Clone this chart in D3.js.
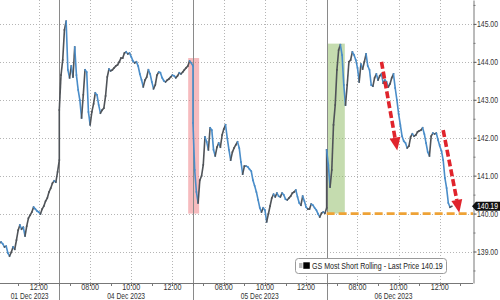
<!DOCTYPE html>
<html>
<head>
<meta charset="utf-8">
<script src="https://cdn.jsdelivr.net/npm/d3@7"></script>
<style>
  body { margin: 0; background: #fff; }
  svg { display: block; font-family: "Liberation Sans", Arial, sans-serif; }
</style>
</head>
<body>
<div id="chart"></div>
<script>
// trading days shown and the time of the first 5 minute bar on each
var days = ["01 Dec 2023", "04 Dec 2023", "05 Dec 2023", "06 Dec 2023"];
var firstBar = ["10:05", "06:30", "06:30", "06:30"];
var barMinutes = 5;

var dec01 = [139.22, 139.25, 139.20, 139.12, 139.14, 138.96, 138.88, 138.98, 139.12, 139.06,
             139.30, 139.56, 139.70, 139.59, 139.64, 139.41, 139.67, 139.88, 139.96, 140.04,
             140.17, 140.12, 140.07, 140.04, 139.99, 140.12, 140.20, 140.33, 140.41, 140.57,
             140.67, 140.80, 140.86, 140.83, 141.10, 141.41];
var dec04 = [142.73, 143.65, 144.05, 144.84, 145.07, 143.79, 143.58, 143.89, 143.60, 144.39,
             143.65, 143.26, 142.99, 142.52, 143.13, 143.79, 143.73, 142.68, 142.34, 142.68,
             142.89, 143.18, 143.13, 142.86, 142.65, 142.73, 142.78, 143.10, 143.60, 143.81,
             143.76, 143.79, 143.84, 143.89, 143.92, 144.00, 144.10, 144.10, 144.23, 144.26,
             144.21, 144.23, 144.13, 144.02, 143.97, 144.00, 143.89, 143.68, 143.52, 143.34,
             143.52, 143.60, 143.79, 143.68, 143.47, 143.29, 143.39, 143.65, 143.73, 143.71,
             143.58, 143.50, 143.47, 143.52, 143.55, 143.60, 143.65, 143.63, 143.58, 143.63,
             143.71, 143.68, 143.73, 143.79, 143.84, 143.89, 144.02, 143.97, 143.89];
var dec05 = [142.39, 141.15, 140.57, 140.28, 140.88, 140.99, 141.28, 142.02, 141.89, 141.68,
             142.26, 142.20, 141.68, 141.52, 141.75, 141.86, 141.75, 142.07, 142.23, 142.34,
             141.99, 141.68, 141.41, 141.62, 141.73, 141.81, 141.89, 141.73, 141.36, 141.04,
             141.25, 141.25, 141.23, 141.17, 141.12, 140.88, 140.73, 140.57, 140.36, 140.15,
             140.04, 140.15, 140.09, 139.78, 139.99, 140.20, 140.41, 140.51, 140.44, 140.54,
             140.46, 140.44, 140.54, 140.49, 140.38, 140.36, 140.41, 140.46, 140.54, 140.57,
             140.62, 140.44, 140.28, 140.22, 140.46, 140.33, 140.17, 140.12, 140.12, 140.25,
             140.22, 140.15, 140.09, 139.99, 139.91, 140.01, 140.04, 140.01, 140.15];
var dec06 = [141.68, 141.28, 140.70, 141.15, 142.34, 142.86, 143.79, 144.31, 144.45, 144.18,
             143.39, 142.86, 143.39, 144.00, 144.05, 144.26, 144.18, 144.05, 143.84, 143.47,
             143.94, 143.81, 144.00, 144.21, 143.89, 143.79, 143.39, 143.36, 143.58, 143.68,
             143.52, 143.63, 143.68, 143.44, 143.52, 143.47, 143.34, 143.42, 143.58, 143.68,
             143.31, 142.99, 142.63, 142.34, 142.04, 141.91, 141.86, 141.73, 141.78, 142.02,
             142.10, 142.04, 142.07, 142.15, 142.18, 142.20, 142.26, 142.10, 141.86, 141.62,
             141.52, 142.04, 142.12, 142.10, 142.12, 141.94, 141.78, 141.65, 141.41, 140.94,
             140.67, 140.28, 140.17, 140.19];
var prices = [dec01, dec04, dec05, dec06];

var timeLabels = ["08:00", "10:00", "12:00"];
var priceTicks = [139, 140, 141, 142, 143, 144, 145];
var lastPrice = 140.19;
var support = 140.00;
var seriesName = "GS Most Short Rolling - Last Price";

// shaded zones [day, time] -> [day, time], up to a price
var zones = [
  {from: [1, "12:46"], to: [2, "06:48"], top: 144.10},
  {from: [3, "06:32"], to: [3, "07:23"], top: 144.48}
];
// red arrows [day, time, price]
var arrows = [
  {from: [3, "09:10", 144.00], to: [3, "09:56", 141.66]},
  {from: [3, "12:10", 142.20], to: [3, "12:57", 140.02]}
];

var width = 500, height = 300;
var plotW = 473, plotH = 283;
var open = 390, sessionLen = 390;   // 06:30 to 13:00, gaps removed

function toMin(s) { var p = s.split(':'); return +p[0] * 60 + +p[1]; }
function sess(day, t) { return day * sessionLen + (typeof t === 'string' ? toMin(t) : t) - open; }

// narrow font look: squeeze a text horizontally to a given width
function squeeze(text, tx, ty, w) {
  text.attr('x', 0).attr('y', 0);
  var len = text.node().getComputedTextLength();
  text.attr('transform', 'translate(' + tx + ',' + ty + ') scale(' + (w / len) + ',1)');
}

var x = d3.scaleLinear()
  .domain([sess(0, "10:07"), sess(3, "13:37")])
  .range([0, plotW]);
var y = d3.scaleLinear()
  .domain([138.17, 145.63])
  .range([plotH, 0]);

var points = [];
prices.forEach(function(vals, d) {
  var t0 = toMin(firstBar[d]);
  vals.forEach(function(v, i) {
    points.push({t: sess(d, t0 + i * barMinutes), v: v});
  });
});

var svg = d3.select('#chart')
  .append('svg')
  .attr('width', width)
  .attr('height', height);

svg.append('clipPath').attr('id', 'plot')
  .append('rect').attr('width', plotW).attr('height', plotH);

// horizontal grid
svg.selectAll('.hgrid')
  .data(priceTicks)
  .enter()
  .append('line')
  .attr('x1', 0).attr('x2', plotW)
  .attr('y1', function(d) { return Math.round(y(d)) + 0.5; })
  .attr('y2', function(d) { return Math.round(y(d)) + 0.5; })
  .attr('stroke', '#b5b5b5')
  .attr('stroke-dasharray', '1,2');

// hourly ticks, labelled ones get a grid line
var hourTicks = [];
days.forEach(function(day, d) {
  for (var h = 7; h <= 13; h++) {
    var t = sess(d, h * 60);
    if (t >= x.domain()[0] && t <= x.domain()[1]) {
      var lab = (h < 10 ? '0' : '') + h + ':00';
      hourTicks.push({t: t, label: timeLabels.indexOf(lab) >= 0 ? lab : null});
    }
  }
});

svg.selectAll('.vgrid')
  .data(hourTicks.filter(function(d) { return d.label; }))
  .enter()
  .append('line')
  .attr('x1', function(d) { return Math.round(x(d.t)) + 0.5; })
  .attr('x2', function(d) { return Math.round(x(d.t)) + 0.5; })
  .attr('y1', 0).attr('y2', plotH)
  .attr('stroke', '#b5b5b5')
  .attr('stroke-dasharray', '1,2');

// zones
var zoneFill = ['rgba(238,120,125,0.5)', 'rgba(140,185,95,0.5)'];
svg.selectAll('.zone')
  .data(zones)
  .enter()
  .append('rect')
  .attr('x', function(d) { return x(sess(d.from[0], d.from[1])); })
  .attr('width', function(d) { return x(sess(d.to[0], d.to[1])) - x(sess(d.from[0], d.from[1])); })
  .attr('y', function(d) { return y(d.top); })
  .attr('height', function(d) { return y(support) - y(d.top); })
  .attr('fill', function(d, i) { return zoneFill[i]; });

// day separators
svg.selectAll('.daysep')
  .data(days.slice(1))
  .enter()
  .append('line')
  .attr('x1', function(d, i) { return Math.round(x(sess(i + 1, "06:30"))) + 0.5; })
  .attr('x2', function(d, i) { return Math.round(x(sess(i + 1, "06:30"))) + 0.5; })
  .attr('y1', 0).attr('y2', height)
  .attr('stroke', '#8a8a8a');

// support level
svg.append('line')
  .attr('x1', x(sess(3, "06:30"))).attr('x2', plotW)
  .attr('y1', y(support)).attr('y2', y(support))
  .attr('stroke', '#eea236')
  .attr('stroke-width', 2.6)
  .attr('stroke-dasharray', '8,4');

// price, coloured by direction
var segs = d3.pairs(points);
svg.append('g')
  .attr('clip-path', 'url(#plot)')
  .selectAll('line')
  .data(segs)
  .enter()
  .append('line')
  .attr('x1', function(d) { return x(d[0].t); })
  .attr('y1', function(d) { return y(d[0].v); })
  .attr('x2', function(d) { return x(d[1].t); })
  .attr('y2', function(d) { return y(d[1].v); })
  .attr('stroke', function(d) { return d[1].v >= d[0].v ? '#4f5358' : '#4a8dc9'; })
  .attr('stroke-width', 1.6)
  .attr('stroke-linecap', 'square');

// arrows
var arrowG = svg.append('g');
arrows.forEach(function(a) {
  var x0 = x(sess(a.from[0], a.from[1])), y0 = y(a.from[2]);
  var x1 = x(sess(a.to[0], a.to[1])), y1 = y(a.to[2]);
  var dx = x1 - x0, dy = y1 - y0, len = Math.sqrt(dx * dx + dy * dy);
  var ux = dx / len, uy = dy / len;
  var head = 13, half = 5.5;
  var bx = x1 - ux * head, by = y1 - uy * head;
  arrowG.append('line')
    .attr('x1', x0).attr('y1', y0)
    .attr('x2', bx).attr('y2', by)
    .attr('stroke', '#e0242c')
    .attr('stroke-width', 3.6)
    .attr('stroke-dasharray', '7,3');
  arrowG.append('path')
    .attr('d', 'M' + x1 + ',' + y1 +
      'L' + (bx - uy * half) + ',' + (by + ux * half) +
      'L' + (bx + uy * half) + ',' + (by - ux * half) + 'Z')
    .attr('fill', '#e0242c');
});

// x axis
svg.append('line')
  .attr('x1', 0).attr('x2', plotW)
  .attr('y1', plotH + 0.5).attr('y2', plotH + 0.5)
  .attr('stroke', '#777');

svg.selectAll('.xtick')
  .data(hourTicks)
  .enter()
  .append('line')
  .attr('x1', function(d) { return Math.round(x(d.t)) + 0.5; })
  .attr('x2', function(d) { return Math.round(x(d.t)) + 0.5; })
  .attr('y1', plotH).attr('y2', plotH + 3)
  .attr('stroke', '#777');

svg.selectAll('.xlabel')
  .data(hourTicks.filter(function(d) { return d.label; }))
  .enter()
  .append('text')
  .attr('font-size', 8.5)
  .attr('fill', '#333')
  .text(function(d) { return d.label; })
  .each(function(d) { squeeze(d3.select(this), x(d.t) - 9, 290, 18); });

svg.selectAll('.daylabel')
  .data(days)
  .enter()
  .append('text')
  .attr('font-size', 8.5)
  .attr('fill', '#333')
  .text(function(d) { return d; })
  .each(function(d, i) {
    var a = Math.max(0, x(sess(i, "06:30")));
    var b = Math.min(plotW, x(sess(i, "13:00")));
    squeeze(d3.select(this), (a + b) / 2 - 19, 298.7, 38);
  });

// right price axis
var yAxis = d3.axisRight(y)
  .tickValues(priceTicks)
  .tickFormat(d3.format('.2f'))
  .tickSize(3)
  .tickSizeOuter(0);
var yAxisG = svg.append('g')
  .attr('transform', 'translate(' + (plotW + 0.5) + ',0)')
  .call(yAxis);
yAxisG.select('.domain').attr('stroke', '#777');
yAxisG.selectAll('.tick line').attr('stroke', '#555');
yAxisG.selectAll('.tick text')
  .attr('font-size', 8.5)
  .attr('font-family', null)
  .attr('fill', '#333')
  .attr('dy', null)
  .each(function() { squeeze(d3.select(this), 3.5, 3, 21); });

var halfTicks = d3.range(138.5, 146, 1);
svg.append('g')
  .attr('transform', 'translate(' + (plotW + 0.5) + ',0)')
  .call(d3.axisRight(y).tickValues(halfTicks).tickSize(2).tickFormat(''))
  .call(function(g) { g.select('.domain').remove(); })
  .selectAll('.tick line').attr('stroke', '#777');

// last price tag
var ly = y(lastPrice);
svg.append('path')
  .attr('d', 'M' + (plotW - 1) + ',' + ly + 'L' + (plotW + 3) + ',' + (ly - 4.5) +
    'L500,' + (ly - 4.5) + 'L500,' + (ly + 4.5) + 'L' + (plotW + 3) + ',' + (ly + 4.5) + 'Z')
  .attr('fill', '#111');
svg.append('text')
  .attr('font-size', 8.5)
  .attr('fill', '#fff')
  .text(d3.format('.2f')(lastPrice))
  .call(squeeze, plotW + 4, ly + 3, 21);

// legend
var legend = svg.append('g').attr('transform', 'translate(295,258)');
legend.append('rect')
  .attr('x', 0.5).attr('y', 0.5)
  .attr('width', 151).attr('height', 15)
  .attr('rx', 3)
  .attr('fill', '#fff')
  .attr('stroke', '#9a9a9a');
legend.append('rect')
  .attr('x', 4).attr('y', 5)
  .attr('width', 3.5).attr('height', 5)
  .attr('fill', '#bbb');
legend.append('rect')
  .attr('x', 8.3).attr('y', 4.3)
  .attr('width', 6.5).attr('height', 6.5)
  .attr('fill', '#000');
legend.append('text')
  .attr('font-size', 8.5)
  .attr('fill', '#222')
  .text(seriesName + ' ' + d3.format('.2f')(lastPrice))
  .call(squeeze, 17, 10.5, 131);
</script>
</body>
</html>
